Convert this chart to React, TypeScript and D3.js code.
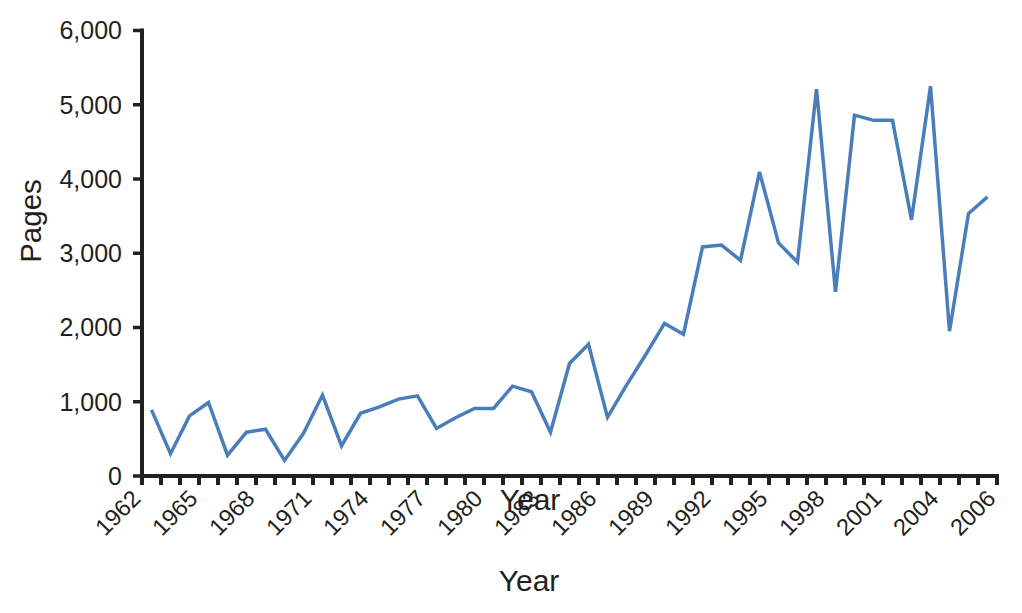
import React from "react";
import * as d3 from "d3";

const years: number[] = d3.range(1962, 2007);
const pages: number[] = [
  890, 300, 810, 990, 280, 590, 630, 210, 575, 1090,
  405, 845, 930, 1035, 1080, 640, 785, 910, 910, 1210,
  1135, 590, 1515, 1775, 790, 1225, 1630, 2055, 1910, 3085,
  3110, 2905, 4095, 3140, 2880, 5210, 2480, 4860, 4790, 4790,
  3450, 5250, 1950, 3535, 3760,
];
const yTicks: number[] = [0, 1000, 2000, 3000, 4000, 5000, 6000];
const xTickLabels: string[] = ["1962", "1965", "1968", "1971", "1974", "1977", "1980", "1983", "1986", "1989", "1992", "1995", "1998", "2001", "2004", "2006"];
const xTickLabelSlots: number[] = [0, 3, 6, 9, 12, 15, 18, 21, 24, 27, 30, 33, 36, 39, 42, 45];
const xTitle = "Year";
const yTitle = "Pages";

const W = 1022;
const H = 613;
const FONT = "'Liberation Sans', Arial, Helvetica, sans-serif";
const INK = "#231f20";

export default function App() {
  const left = 142, right = 997, top = 30.5, bottom = 476;
  const band = d3.scaleBand<number>().domain(years).range([left, right]).padding(0);
  const y = d3.scaleLinear().domain([0, 6000]).range([bottom, top]);
  const edge = (i: number) => left + i * band.step();
  const line = d3
    .line<number>()
    .x((_, i) => (band(years[i]) as number) + band.bandwidth() / 2)
    .y((d) => y(d));
  const edges = d3.range(years.length + 1);
  const fmt = d3.format(",");

  return (
    <svg width={W} height={H} style={{ position: "absolute", left: 0, top: 0, background: "#fff" }} fontFamily={FONT}>
      <rect x={0} y={0} width={W} height={H} fill="#fff" />
      {/* data line */}
      <path d={line(pages) || ""} fill="none" stroke="#4a7ebb" strokeWidth={3.5} strokeLinejoin="miter" />
      {/* y axis */}
      <line x1={left} x2={left} y1={top - 2} y2={bottom + 2} stroke={INK} strokeWidth={4} />
      {yTicks.map((t) => (
        <g key={t}>
          <line x1={left - 9} x2={left} y1={y(t)} y2={y(t)} stroke={INK} strokeWidth={3.5} />
          <text x={122} y={y(t)} dy="0.35em" textAnchor="end" fontSize={25} fill={INK}>
            {fmt(t)}
          </text>
        </g>
      ))}
      {/* x axis */}
      <line x1={left - 2} x2={right + 2} y1={bottom} y2={bottom} stroke={INK} strokeWidth={4} />
      {edges.map((i) => (
        <line key={i} x1={edge(i)} x2={edge(i)} y1={bottom} y2={bottom + 9} stroke={INK} strokeWidth={4} />
      ))}
      {xTickLabels.map((lab, k) => {
        const x = edge(xTickLabelSlots[k]);
        const yy = 500;
        return (
          <text key={lab} x={x} y={yy} textAnchor="end" fontSize={23.5} fill={INK} transform={`rotate(-45 ${x} ${yy})`}>
            {lab}
          </text>
        );
      })}
      {/* titles */}
      <text x={530} y={510} textAnchor="middle" fontSize={30} fill={INK}>
        {xTitle}
      </text>
      <text x={529} y={591} textAnchor="middle" fontSize={30} fill={INK}>
        {xTitle}
      </text>
      <text x={41} y={221} textAnchor="middle" fontSize={29.5} fill={INK} transform={`rotate(-90 41 221)`}>
        {yTitle}
      </text>
    </svg>
  );
}
